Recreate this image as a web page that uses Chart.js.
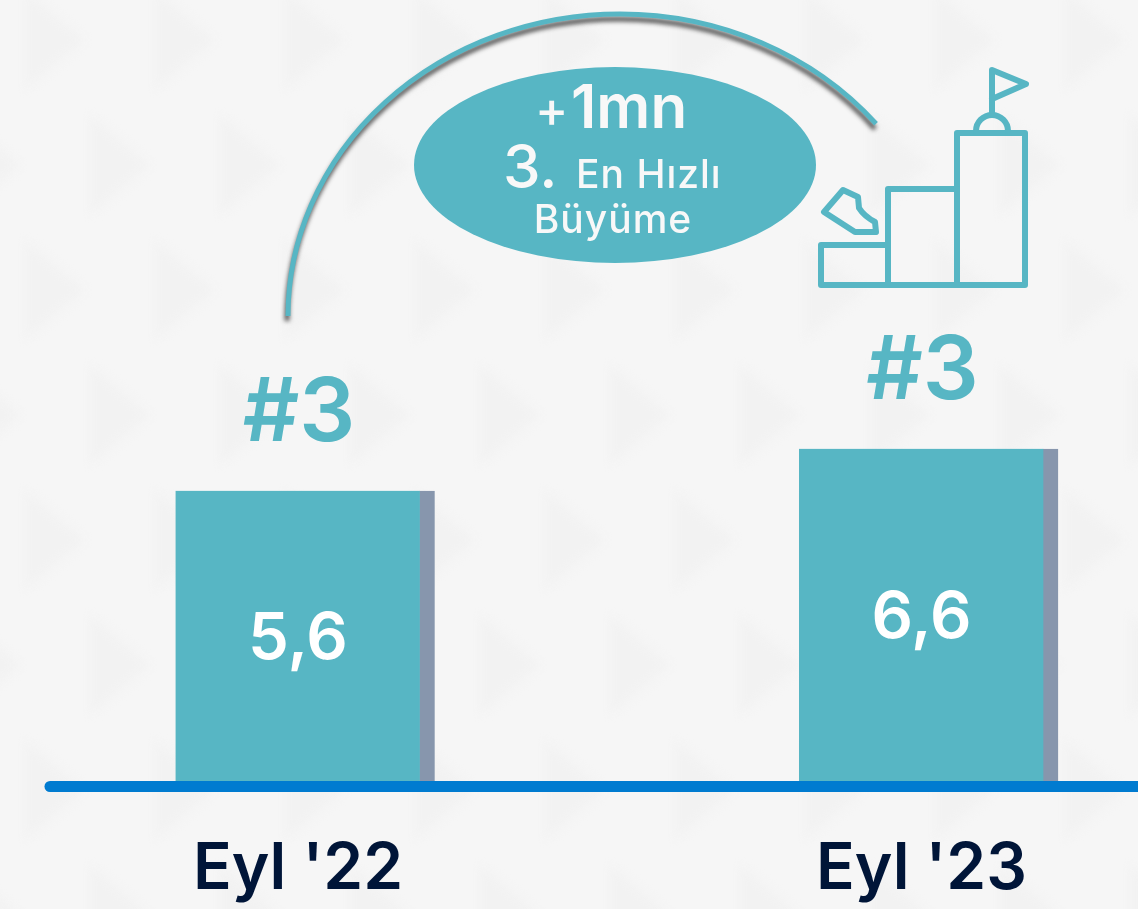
<!DOCTYPE html>
<html>
<head>
<meta charset="utf-8">
<style>
  html, body { margin: 0; padding: 0; background: #f6f6f6; overflow: hidden; }
  canvas { display: block; }
</style>
<script src="https://cdn.jsdelivr.net/npm/chart.js@4/dist/chart.umd.min.js"></script>
</head>
<body>
<canvas id="grafico" width="1138" height="909"></canvas>
<script>
const categorias = ["Eyl '22", "Eyl '23"];
const valores = [5.6, 6.6];
const rotulosValor = ["5,6", "6,6"];
const rotulosRanking = ["#3", "#3"];

// eixo nao comeca em zero no original, base calculada a partir da altura das barras
const eixoMin = -1.33;
const eixoMax = 8;

const TEAL = "#57b6c4";
const SOMBRA = "#8796ad";
const AZUL = "#007bd0";
const NAVY = "#001538";
const FONTE = 'Inter, "Noto Sans", sans-serif';

function triangulo(ctx, x, y, w, h) {
  ctx.beginPath();
  ctx.moveTo(x, y);
  ctx.lineTo(x + w, y + h / 2);
  ctx.lineTo(x, y + h);
  ctx.closePath();
  ctx.fill();
}

const fundo = {
  id: "fundo",
  beforeDraw(chart) {
    const ctx = chart.ctx;
    ctx.save();
    ctx.fillStyle = "#f6f6f6";
    ctx.fillRect(0, 0, chart.width, chart.height);
    ctx.filter = "blur(5px)";
    ctx.fillStyle = "#f2f2f2";
    for (let lin = 0; lin < 8; lin++) {
      for (let col = -1; col < 9; col++) {
        const x = col * 130 + (lin % 2 ? 90 : 25);
        const y = lin * 125 - 10;
        triangulo(ctx, x, y, 60, 100);
      }
    }
    ctx.restore();
  }
};

function desenharArco(ctx) {
  ctx.save();
  ctx.strokeStyle = TEAL;
  ctx.lineWidth = 5;
  ctx.shadowColor = "rgba(50, 50, 50, 0.8)";
  ctx.shadowOffsetY = 5;
  ctx.shadowOffsetX = -1;
  ctx.shadowBlur = 4;
  ctx.beginPath();
  ctx.ellipse(620, 316, 332, 302, 0, Math.PI, Math.PI * 2 - 0.69);
  ctx.stroke();
  ctx.restore();
}

function desenharBalao(ctx) {
  ctx.save();
  ctx.fillStyle = TEAL;
  ctx.beginPath();
  ctx.ellipse(615, 165, 201, 98, 0, 0, Math.PI * 2);
  ctx.fill();

  ctx.fillStyle = "#f8f8f8";
  ctx.textBaseline = "alphabetic";
  ctx.textAlign = "left";
  ctx.font = "500 50px " + FONTE;
  ctx.fillText("+", 535, 127);
  ctx.font = "600 60px " + FONTE;
  ctx.fillText("1mn", 571, 128);
  ctx.font = "500 60px " + FONTE;
  ctx.fillText("3.", 503, 188);
  ctx.font = "500 39px " + FONTE;
  ctx.letterSpacing = "1px";
  ctx.fillText("En Hızlı", 576, 188);
  ctx.textAlign = "center";
  ctx.fillText("Büyüme", 613, 233);
  ctx.restore();
}

function desenharIcone(ctx) {
  ctx.save();
  ctx.strokeStyle = TEAL;
  ctx.lineWidth = 6;
  ctx.lineJoin = "round";
  ctx.lineCap = "round";

  ctx.strokeRect(957, 133, 68, 152);
  ctx.beginPath();
  ctx.moveTo(957, 285);
  ctx.lineTo(888, 285);
  ctx.lineTo(888, 189);
  ctx.lineTo(957, 189);
  ctx.moveTo(888, 285);
  ctx.lineTo(821, 285);
  ctx.lineTo(821, 245);
  ctx.lineTo(888, 245);
  ctx.stroke();

  ctx.beginPath();
  ctx.arc(992, 131, 16, Math.PI, 0);
  ctx.moveTo(992, 115);
  ctx.lineTo(992, 70);
  ctx.lineTo(1026, 84);
  ctx.lineTo(992, 99);
  ctx.stroke();

  // tenis
  ctx.beginPath();
  ctx.moveTo(824, 212);
  ctx.lineTo(843, 190);
  ctx.lineTo(858, 197);
  ctx.lineTo(859, 208);
  ctx.quadraticCurveTo(864, 216, 875, 222);
  ctx.lineTo(876, 232);
  ctx.lineTo(855, 232);
  ctx.closePath();
  ctx.stroke();
  ctx.restore();
}

const anotacoes = {
  id: "anotacoes",
  afterDatasetsDraw(chart) {
    const ctx = chart.ctx;
    const barras = chart.getDatasetMeta(0).data;

    // linha de base, passa por cima do pe das barras
    const yBase = chart.scales.y.getPixelForValue(eixoMin) + 4.5;
    ctx.save();
    ctx.strokeStyle = AZUL;
    ctx.lineWidth = 11;
    ctx.lineCap = "round";
    ctx.beginPath();
    ctx.moveTo(50, yBase);
    ctx.lineTo(1150, yBase);
    ctx.stroke();

    ctx.textAlign = "center";
    ctx.textBaseline = "middle";
    barras.forEach((barra, i) => {
      const cx = barra.x - 7;
      ctx.fillStyle = "#ffffff";
      ctx.font = "600 65px " + FONTE;
      ctx.fillText(rotulosValor[i], cx, (barra.y + barra.base) / 2 + 3);
      ctx.fillStyle = TEAL;
      ctx.font = "600 88px " + FONTE;
      ctx.fillText(rotulosRanking[i], cx + 1, barra.y - 76);
    });
    ctx.restore();

    desenharArco(ctx);
    desenharBalao(ctx);
    desenharIcone(ctx);
  }
};

new Chart(document.getElementById("grafico").getContext("2d"), {
  type: "bar",
  data: {
    labels: categorias,
    datasets: [{
      data: valores,
      base: eixoMin,
      backgroundColor: TEAL,
      borderColor: SOMBRA,
      borderWidth: { top: 0, right: 15, bottom: 0, left: 0 },
      borderSkipped: false,
      barThickness: 259,
      clip: false
    }]
  },
  options: {
    responsive: false,
    animation: false,
    layout: { padding: { left: 305, right: 209.5, top: 390, bottom: 0 } },
    plugins: { legend: { display: false }, tooltip: { enabled: false } },
    scales: {
      x: {
        offset: false,
        grid: { display: false },
        border: { display: false },
        afterFit(escala) { escala.height = 127; },
        ticks: {
          padding: 41,
          labelOffset: -7,
          maxRotation: 0,
          color: NAVY,
          font: { family: FONTE, size: 64, weight: "600" }
        }
      },
      y: {
        display: false,
        min: eixoMin,
        max: eixoMax
      }
    }
  },
  plugins: [fundo, anotacoes]
});
</script>
</body>
</html>
